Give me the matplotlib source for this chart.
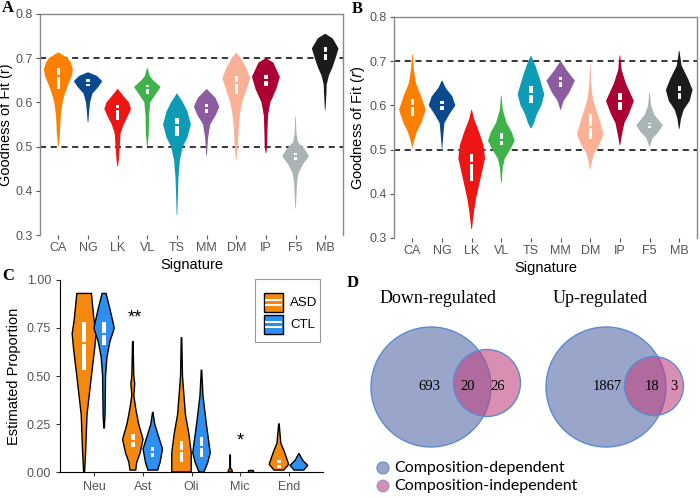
import numpy as np
import matplotlib
matplotlib.use("Agg")
import matplotlib.pyplot as plt
from matplotlib.patches import Rectangle, Circle

plt.rcParams['font.family'] = ['Liberation Sans', 'DejaVu Sans']

## Panel A / B data ##
signatures = ["CA", "NG", "LK", "VL", "TS", "MM", "DM", "IP", "F5", "MB"]
sig_colors = ['#ff7f00', '#0a4a8c', '#ee1515', '#3fb34a', '#0f9bb5',
              '#8c5ba0', '#fcb095', '#ab0033', '#a9b4b5', '#1b1b1b']

# violin outlines: (value, half width)
a_profiles = [
    [(0.500, 0.01), (0.53, 0.05), (0.57, 0.08), (0.60, 0.14), (0.62, 0.22), (0.64, 0.33), (0.66, 0.45), (0.675, 0.49), (0.69, 0.42), (0.70, 0.32), (0.713, 0.01)],
    [(0.555, 0.01), (0.58, 0.04), (0.60, 0.07), (0.62, 0.15), (0.635, 0.35), (0.648, 0.48), (0.66, 0.30), (0.668, 0.01)],
    [(0.455, 0.01), (0.47, 0.04), (0.50, 0.07), (0.53, 0.10), (0.55, 0.20), (0.57, 0.35), (0.585, 0.45), (0.60, 0.38), (0.61, 0.25), (0.63, 0.01)],
    [(0.500, 0.01), (0.53, 0.05), (0.57, 0.06), (0.60, 0.10), (0.62, 0.30), (0.635, 0.45), (0.65, 0.20), (0.66, 0.08), (0.678, 0.01)],
    [(0.345, 0.01), (0.39, 0.03), (0.43, 0.05), (0.47, 0.10), (0.50, 0.20), (0.52, 0.35), (0.55, 0.47), (0.58, 0.35), (0.60, 0.20), (0.62, 0.01)],
    [(0.480, 0.01), (0.52, 0.05), (0.55, 0.12), (0.57, 0.30), (0.59, 0.43), (0.61, 0.30), (0.63, 0.01)],
    [(0.470, 0.01), (0.50, 0.05), (0.54, 0.08), (0.57, 0.12), (0.60, 0.20), (0.63, 0.35), (0.655, 0.47), (0.68, 0.32), (0.70, 0.15), (0.712, 0.01)],
    [(0.485, 0.01), (0.50, 0.04), (0.53, 0.05), (0.57, 0.07), (0.60, 0.15), (0.63, 0.35), (0.658, 0.47), (0.69, 0.25), (0.70, 0.01)],
    [(0.360, 0.01), (0.39, 0.03), (0.42, 0.05), (0.44, 0.10), (0.46, 0.25), (0.478, 0.45), (0.495, 0.30), (0.51, 0.08), (0.53, 0.03), (0.568, 0.01)],
    [(0.583, 0.01), (0.62, 0.04), (0.64, 0.05), (0.66, 0.12), (0.68, 0.25), (0.70, 0.35), (0.722, 0.45), (0.745, 0.25), (0.755, 0.01)],
]
a_q1 = [0.630, 0.638, 0.560, 0.620, 0.525, 0.577, 0.620, 0.637, 0.470, 0.695]
a_med = [0.660, 0.645, 0.585, 0.632, 0.548, 0.588, 0.645, 0.650, 0.478, 0.712]
a_q3 = [0.678, 0.653, 0.595, 0.640, 0.565, 0.597, 0.660, 0.662, 0.485, 0.725]

b_profiles = [
    [(0.505, 0.01), (0.52, 0.06), (0.54, 0.15), (0.56, 0.30), (0.59, 0.45), (0.62, 0.30), (0.65, 0.12), (0.68, 0.05), (0.715, 0.01)],
    [(0.503, 0.01), (0.53, 0.04), (0.56, 0.08), (0.58, 0.25), (0.60, 0.45), (0.62, 0.35), (0.64, 0.12), (0.656, 0.01)],
    [(0.320, 0.01), (0.36, 0.08), (0.39, 0.15), (0.42, 0.25), (0.45, 0.35), (0.48, 0.45), (0.51, 0.40), (0.54, 0.25), (0.57, 0.08), (0.590, 0.01)],
    [(0.425, 0.01), (0.46, 0.05), (0.48, 0.12), (0.50, 0.30), (0.52, 0.45), (0.54, 0.35), (0.56, 0.18), (0.59, 0.05), (0.622, 0.01)],
    [(0.548, 0.01), (0.56, 0.10), (0.58, 0.20), (0.60, 0.35), (0.625, 0.45), (0.66, 0.30), (0.69, 0.15), (0.712, 0.01)],
    [(0.590, 0.01), (0.61, 0.10), (0.63, 0.30), (0.656, 0.48), (0.68, 0.20), (0.700, 0.01)],
    [(0.455, 0.01), (0.47, 0.05), (0.49, 0.12), (0.51, 0.30), (0.535, 0.45), (0.57, 0.30), (0.60, 0.15), (0.62, 0.08), (0.65, 0.03), (0.692, 0.01)],
    [(0.510, 0.01), (0.53, 0.06), (0.56, 0.15), (0.58, 0.30), (0.61, 0.47), (0.65, 0.20), (0.68, 0.06), (0.713, 0.01)],
    [(0.507, 0.01), (0.525, 0.10), (0.54, 0.30), (0.555, 0.45), (0.58, 0.15), (0.60, 0.05), (0.628, 0.01)],
    [(0.547, 0.01), (0.57, 0.06), (0.59, 0.15), (0.61, 0.35), (0.635, 0.45), (0.66, 0.30), (0.69, 0.08), (0.723, 0.01)],
]
b_q1 = [0.577, 0.590, 0.430, 0.510, 0.605, 0.642, 0.525, 0.590, 0.548, 0.615]
b_med = [0.598, 0.600, 0.470, 0.522, 0.625, 0.656, 0.552, 0.610, 0.555, 0.630]
b_q3 = [0.615, 0.610, 0.490, 0.538, 0.645, 0.665, 0.580, 0.628, 0.560, 0.645]

## Panel C data ##
cell_types = ["Neu", "Ast", "Oli", "Mic", "End"]
groups = ["ASD", "CTL"]
group_colors = ['#f5890f', '#2f8ff0']
asd_profiles = [
    [(0.00, 0.01), (0.10, 0.03), (0.30, 0.06), (0.50, 0.15), (0.65, 0.22), (0.72, 0.245), (0.80, 0.20), (0.93, 0.15)],
    [(0.01, 0.06), (0.05, 0.08), (0.10, 0.15), (0.17, 0.21), (0.25, 0.12), (0.33, 0.06), (0.40, 0.02), (0.46, 0.04), (0.50, 0.02), (0.68, 0.005)],
    [(0.00, 0.20), (0.02, 0.20), (0.10, 0.20), (0.20, 0.15), (0.30, 0.08), (0.50, 0.02), (0.70, 0.005)],
    [(0.00, 0.04), (0.008, 0.04), (0.02, 0.005), (0.09, 0.003)],
    [(0.01, 0.10), (0.04, 0.20), (0.10, 0.12), (0.15, 0.04), (0.25, 0.005)],
]
ctl_profiles = [
    [(0.23, 0.005), (0.30, 0.02), (0.50, 0.03), (0.60, 0.06), (0.68, 0.12), (0.745, 0.205), (0.76, 0.20), (0.85, 0.12), (0.93, 0.04)],
    [(0.01, 0.10), (0.05, 0.15), (0.12, 0.20), (0.20, 0.10), (0.25, 0.04), (0.31, 0.005)],
    [(0.00, 0.05), (0.05, 0.13), (0.10, 0.18), (0.25, 0.10), (0.40, 0.03), (0.53, 0.005)],
    [(0.00, 0.05), (0.008, 0.05)],
    [(0.01, 0.10), (0.035, 0.18), (0.06, 0.08), (0.095, 0.005)],
]
asd_q1 = [0.53, 0.13, 0.05, 0.0, 0.02]
asd_med = [0.67, 0.16, 0.11, 0.0, 0.04]
asd_q3 = [0.78, 0.20, 0.16, 0.0, 0.06]
ctl_q1 = [0.66, 0.08, 0.08, 0.0, 0.025]
ctl_med = [0.72, 0.105, 0.13, 0.0, 0.03]
ctl_q3 = [0.78, 0.13, 0.18, 0.0, 0.035]
stars = ["", "**", "", "*", ""]
star_y = [0, 0.80, 0, 0.16, 0]

## Panel D data ##
venn_titles = ["Down-regulated", "Up-regulated"]
only_dependent = [693, 1867]
both = [20, 18]
only_independent = [26, 3]
venn_labels = ["Composition-dependent", "Composition-independent"]
venn_colors = ['#9aa6c9', '#be4480']


def draw_violin(ax, x, prof, color, edge='none', lw=0.0):
    ys = np.array([p[0] for p in prof])
    ws = np.array([p[1] for p in prof])
    xs = np.concatenate([x - ws, (x + ws)[::-1]])
    yy = np.concatenate([ys, ys[::-1]])
    ax.fill(xs, yy, facecolor=color, edgecolor=edge, linewidth=lw, zorder=2)


def draw_box(ax, x, q1, med, q3, color, bw):
    if q3 > q1:
        ax.add_patch(Rectangle((x - bw / 2, q1), bw, q3 - q1, facecolor='white',
                               edgecolor='none', zorder=3))
        ax.plot([x - bw / 2, x + bw / 2], [med, med], color=color, lw=1.6, zorder=4)


grey = '#555555'

def style_ab(ax, italic_r):
    ax.set_xlim(0.38, 10.6)
    ax.set_ylim(0.3, 0.8)
    ax.set_xticks(range(1, 11))
    ax.set_xticklabels(signatures)
    ax.set_yticks([0.3, 0.4, 0.5, 0.6, 0.7, 0.8])
    ax.tick_params(colors=grey, labelsize=9, length=3, pad=2, labelcolor=grey)
    for s in ['top', 'right', 'left']:
        ax.spines[s].set_color('#888888')
        ax.spines[s].set_linewidth(1.0)
    ax.spines['bottom'].set_visible(False)
    ax.axhline(0.5, color='black', ls=(0, (4, 3)), lw=1.1, zorder=1)
    ax.axhline(0.7, color='black', ls=(0, (4, 3)), lw=1.1, zorder=1)
    ax.set_xlabel("Signature", fontsize=10.5, labelpad=3)
    if italic_r:
        ax.set_ylabel(r"Goodness of Fit ($\it{r}$)", fontsize=10.5, labelpad=2)
    else:
        ax.set_ylabel("Goodness of Fit (r)", fontsize=10.5, labelpad=2)


fig = plt.figure(figsize=(7, 4.98), dpi=100)

## Panel A ##
axA = fig.add_axes([40 / 700, 1 - 235 / 498, 303 / 700, 221 / 498])
for i in range(10):
    draw_violin(axA, i + 1, a_profiles[i], sig_colors[i])
    draw_box(axA, i + 1, a_q1[i], a_med[i], a_q3[i], sig_colors[i], 0.11)
style_ab(axA, False)

## Panel B ##
axB = fig.add_axes([394 / 700, 1 - 238 / 498, 303 / 700, 221 / 498])
for i in range(10):
    draw_violin(axB, i + 1, b_profiles[i], sig_colors[i])
    draw_box(axB, i + 1, b_q1[i], b_med[i], b_q3[i], sig_colors[i], 0.11)
style_ab(axB, True)

## Panel C ##
axC = fig.add_axes([60 / 700, 1 - 472 / 498, 263 / 700, 192 / 498])
for i in range(5):
    draw_violin(axC, i + 1 - 0.205, asd_profiles[i], group_colors[0], 'black', 1.0)
    draw_violin(axC, i + 1 + 0.205, ctl_profiles[i], group_colors[1], 'black', 1.0)
    draw_box(axC, i + 1 - 0.205, asd_q1[i], asd_med[i], asd_q3[i], group_colors[0], 0.07)
    draw_box(axC, i + 1 + 0.205, ctl_q1[i], ctl_med[i], ctl_q3[i], group_colors[1], 0.07)
    if stars[i]:
        axC.text(i + 1 - (0.16 if len(stars[i]) > 1 else 0), star_y[i], stars[i],
                 ha='center', va='center', fontsize=13)
axC.set_xlim(0.3, 5.7)
axC.set_ylim(0, 1.0)
axC.set_xticks(range(1, 6))
axC.set_xticklabels(cell_types)
axC.set_yticks([0, 0.25, 0.5, 0.75, 1.0])
axC.set_yticklabels(["0.00", "0.25", "0.50", "0.75", "1.00"])
axC.tick_params(colors='#333333', labelsize=9, length=3, labelcolor=grey)
axC.spines['top'].set_visible(False)
axC.spines['right'].set_visible(False)
axC.set_ylabel("Estimated Proportion", fontsize=10.5, labelpad=4)

## overlay for letters, legend C and Venn D (pixel coordinates) ##
ov = fig.add_axes([0, 0, 1, 1])
ov.set_xlim(0, 700)
ov.set_ylim(498, 0)
ov.axis('off')

for lab, (lx, ly) in zip("ABCD", [(8, 8), (357, 9), (8, 276), (353, 283)]):
    ov.text(lx, ly, lab, fontsize=12, fontweight='bold', family='Liberation Serif',
            ha='center', va='center')

# legend of C
ov.add_patch(Rectangle((255, 279), 65, 63, facecolor='white', edgecolor='#999999', lw=0.8))
for k in range(2):
    y0 = 293 + k * 22
    ov.add_patch(Rectangle((264, y0), 19, 19, facecolor=group_colors[k], edgecolor='black', lw=1.0))
    ov.plot([266, 281], [y0 + 7, y0 + 7], color='white', lw=1.4)
    ov.plot([266, 281], [y0 + 12, y0 + 12], color='white', lw=1.4)
    ov.text(290, y0 + 10, groups[k], fontsize=9.5, va='center', ha='left')

# Venn diagrams
big_centre = [(431, 387), (606, 387)]
big_r = [60, 60]
small_centre = [(487, 383), (654, 386)]
small_r = [33.5, 29.5]
text_x = [(429, 468, 498), (607, 652, 674)]
title_x = [438, 600]
for k in range(2):
    ov.add_patch(Circle(big_centre[k], big_r[k], facecolor=venn_colors[0],
                        edgecolor='#5b8ad2', lw=1.0))
    ov.add_patch(Circle(small_centre[k], small_r[k], facecolor=venn_colors[1], alpha=0.6,
                        edgecolor='none'))
    ov.add_patch(Circle(small_centre[k], small_r[k], facecolor='none',
                        edgecolor='#5b8ad2', lw=1.0))
    ov.text(title_x[k], 298, venn_titles[k], fontsize=13, family='Liberation Serif',
            ha='center', va='center')
    for tx, val in zip(text_x[k], [only_dependent[k], both[k], only_independent[k]]):
        ov.text(tx, 386, str(val), fontsize=10.5, family='Liberation Serif',
                ha='center', va='center')

for k in range(2):
    yk = 468 + k * 18
    ov.add_patch(Circle((383, yk), 6, facecolor=venn_colors[k], alpha=1.0 if k == 0 else 0.6,
                        edgecolor='#5b8ad2', lw=0.8))
    ov.text(394, yk, venn_labels[k], fontsize=11.5, family='Lato', va='center', ha='left')

plt.savefig("out.png", dpi=100)
